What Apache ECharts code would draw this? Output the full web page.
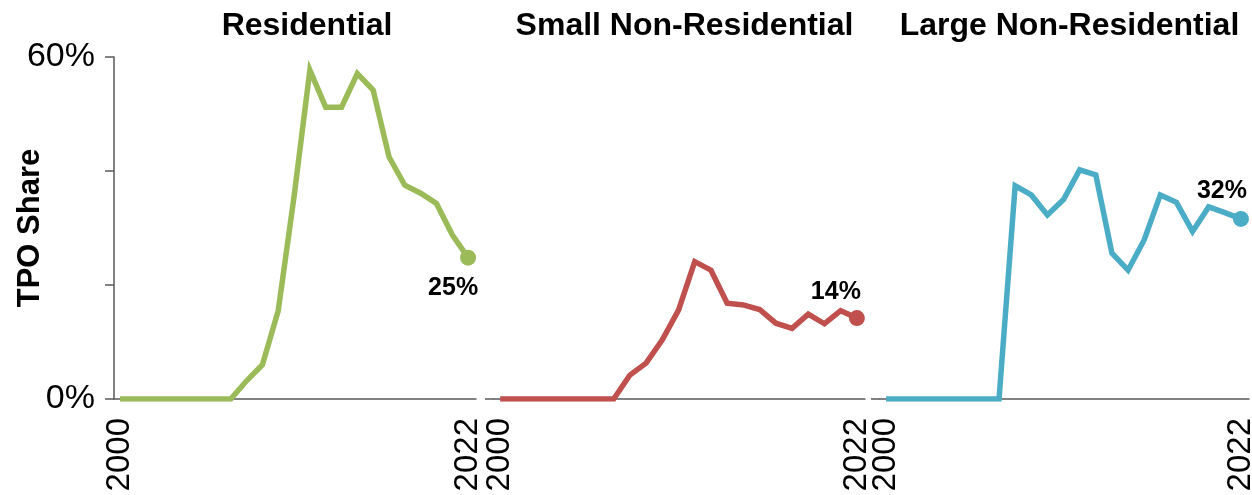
<!DOCTYPE html>
<html>
<head>
<meta charset="utf-8">
<script src="https://cdn.jsdelivr.net/npm/echarts@6/dist/echarts.min.js"></script>
<style>
  html, body { margin: 0; padding: 0; background: #fff; }
  #main { width: 1252px; height: 495px; }
</style>
</head>
<body>
<div id="main"></div>
<script>
// TPO share by segment, 2000-2022 (%)
const years = [2000, 2001, 2002, 2003, 2004, 2005, 2006, 2007, 2008, 2009, 2010,
  2011, 2012, 2013, 2014, 2015, 2016, 2017, 2018, 2019, 2020, 2021, 2022]
const residential = [0, 0, 0, 0, 0, 0, 0, 0, 3.2, 6.0, 15.5,
  35.5, 57.7, 51.2, 51.2, 57.1, 54.2, 42.5, 37.5, 36.1, 34.3, 28.8, 24.8]
const smallNonRes = [0, 0, 0, 0, 0, 0, 0, 0, 4.2, 6.3, 10.4,
  15.6, 24.1, 22.6, 16.8, 16.5, 15.7, 13.3, 12.4, 14.9, 13.2, 15.5, 14.2]
const largeNonRes = [0, 0, 0, 0, 0, 0, 0, 0, 37.4, 35.8, 32.3,
  35.0, 40.2, 39.3, 25.6, 22.6, 27.9, 35.8, 34.5, 29.4, 33.7, 32.7, 31.6]
const panelNames = ['Residential', 'Small Non-Residential', 'Large Non-Residential']
const endLabels = ['25%', '14%', '32%']
const colors = ['#9BBB59', '#C0504D', '#4BACC6']
const yTicks = [0, 20, 40, 60]

const panels = [residential, smallNonRes, largeNonRes]
const grids = [
  { left: 114, top: 57, width: 362, height: 342, outerBoundsMode: 'none', containLabel: false },
  { left: 494, top: 57, width: 371, height: 342, outerBoundsMode: 'none', containLabel: false },
  { left: 880, top: 57, width: 369, height: 342, outerBoundsMode: 'none', containLabel: false }
]
const labelOffsets = [[-15, 30], [-21, -26], [-19, -28]]
const font = 'Liberation Sans, Arial, sans-serif'

const chart = echarts.init(document.getElementById('main'))

const xAxes = grids.map((g, i) => ({
  type: 'value',
  gridIndex: i,
  min: 1999.62,
  max: 2022.5,
  axisLine: { show: true, lineStyle: { color: '#595959', width: 1.5 } },
  axisTick: { show: false },
  splitLine: { show: false },
  axisLabel: {
    customValues: [years[0], years[years.length - 1]],
    formatter: v => String(v),
    rotate: 90,
    margin: 19,
    fontSize: 33,
    fontFamily: font,
    color: '#000'
  }
}))

const yAxes = grids.map((g, i) => ({
  type: 'value',
  gridIndex: i,
  min: 0,
  max: 60,
  interval: 20,
  name: i === 0 ? 'TPO Share' : '',
  nameLocation: 'middle',
  nameRotate: 90,
  nameGap: 68,
  nameMoveOverlap: false,
  nameTextStyle: { fontSize: 31, fontWeight: 'bold', fontFamily: font, color: '#000' },
  axisLine: { show: i === 0, lineStyle: { color: '#595959', width: 1.5 } },
  axisTick: {
    show: true,
    inside: false,
    length: 9,
    customValues: i === 0 ? yTicks : [0],
    lineStyle: { color: '#595959', width: 1.5 }
  },
  splitLine: { show: false },
  axisLabel: {
    show: i === 0,
    customValues: [0, 60],
    formatter: v => v + '%',
    margin: 19,
    fontSize: 34,
    fontFamily: font,
    color: '#000'
  }
}))

const series = []
panels.forEach((vals, i) => {
  const pts = years.map((y, k) => [y, vals[k]])
  series.push({
    type: 'line',
    xAxisIndex: i,
    yAxisIndex: i,
    data: pts,
    showSymbol: false,
    lineStyle: { color: colors[i], width: 5.5, join: 'miter' },
    silent: true,
    animation: false
  })
  series.push({
    type: 'scatter',
    xAxisIndex: i,
    yAxisIndex: i,
    data: [pts[pts.length - 1]],
    symbolSize: 16,
    itemStyle: { color: colors[i], opacity: 1 },
    label: {
      show: true,
      position: 'inside',
      offset: labelOffsets[i],
      formatter: endLabels[i],
      fontSize: 25,
      fontWeight: 'bold',
      fontFamily: font,
      color: '#000'
    },
    silent: true,
    animation: false
  })
})

const option = {
  backgroundColor: '#fff',
  animation: false,
  title: panelNames.map((n, i) => ({
    text: n,
    left: grids[i].left + grids[i].width / 2 + (i === 0 ? 7 : 0),
    top: 5,
    textAlign: 'center',
    textStyle: { fontSize: 32, fontWeight: 'bold', fontFamily: font, color: '#000' }
  })),
  grid: grids,
  xAxis: xAxes,
  yAxis: yAxes,
  series: series
}

chart.setOption(option)
</script>
</body>
</html>
